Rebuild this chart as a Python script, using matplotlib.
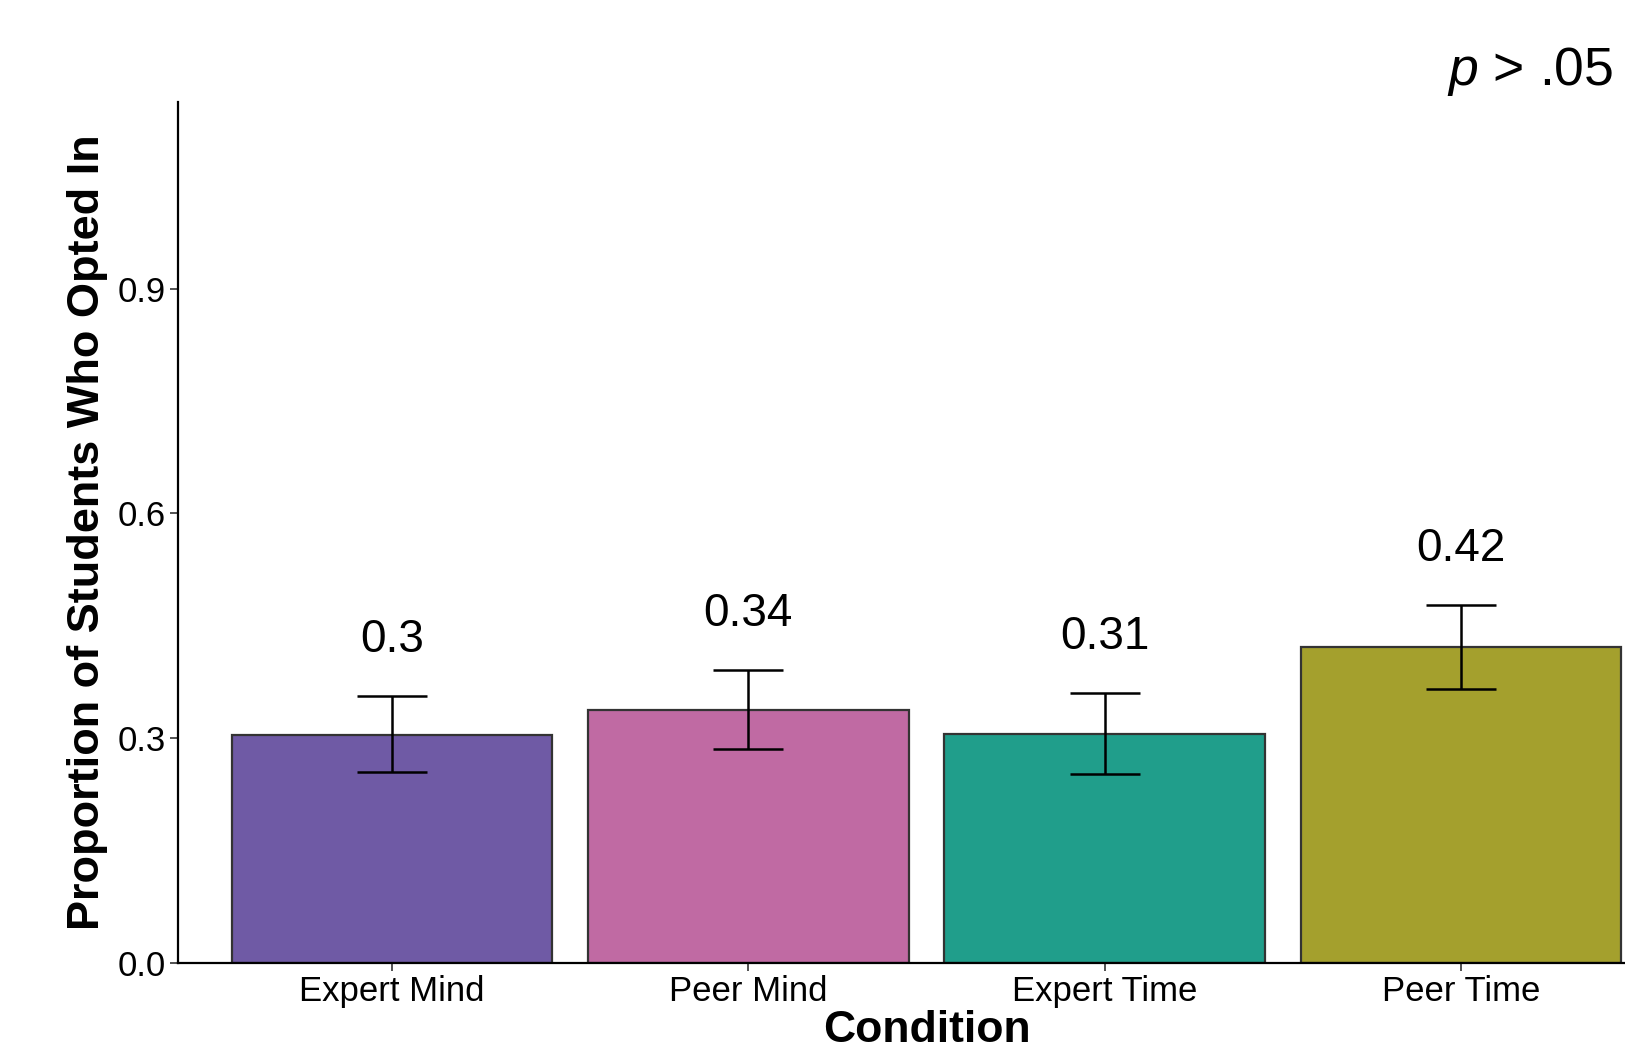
import numpy as np
import matplotlib
matplotlib.use("Agg")
import matplotlib.pyplot as plt

plt.rcParams['font.family'] = 'Liberation Sans'
plt.rcParams['mathtext.fontset'] = 'custom'
plt.rcParams['mathtext.it'] = 'Liberation Sans:italic'
plt.rcParams['mathtext.rm'] = 'Liberation Sans'

# proportion opted in per condition, with error bar limits
conditions = ["Expert Mind", "Peer Mind", "Expert Time", "Peer Time"]
prop = [0.304, 0.337, 0.306, 0.421]
err_low = [0.255, 0.285, 0.252, 0.366]
err_high = [0.356, 0.391, 0.360, 0.478]
colors = ["#6F5AA5", "#C06AA3", "#209E8B", "#A4A02D"]

x = np.arange(1, len(conditions) + 1)
prop = np.array(prop)
lo = prop - np.array(err_low)
hi = np.array(err_high) - prop

fig = plt.figure(figsize=(16.25, 10.52), dpi=100)
ax = fig.add_axes([0.1097, 0.0849, 0.9209, 0.8185])

ax.bar(x, prop, width=0.9, color=colors, edgecolor="#333333", linewidth=1.6, zorder=2)
ax.errorbar(x, prop, yerr=[lo, hi], fmt="none", ecolor="black", elinewidth=1.8,
            capsize=25, capthick=1.8, zorder=3)

for xi, top, p in zip(x, err_high, prop):
    lab = f"{round(p, 2):g}"
    ax.text(xi, top + 0.075, lab, ha="center", va="center", fontsize=33)

ax.set_xlim(0.4, 4.6)
ax.set_ylim(0, 1.15)
ax.set_yticks([0, 0.3, 0.6, 0.9])
ax.set_yticklabels(["0.0", "0.3", "0.6", "0.9"])
ax.set_xticks(x)
ax.set_xticklabels(conditions)
ax.tick_params(axis="both", labelsize=25, length=6, width=1.2, color="#333333", pad=3)

for side in ["top", "right"]:
    ax.spines[side].set_visible(False)
for side in ["left", "bottom"]:
    ax.spines[side].set_linewidth(1.6)
    ax.spines[side].set_color("black")

ax.set_xlabel("Condition", fontsize=32, fontweight="bold", labelpad=1)
ax.set_ylabel("Proportion of Students Who Opted In", fontsize=32.5, fontweight="bold", labelpad=7)

fig.text(0.9925, 0.919, r"$\it{p}$ > .05", ha="right", va="baseline", fontsize=38.5)

fig.savefig("out.png", dpi=100)
